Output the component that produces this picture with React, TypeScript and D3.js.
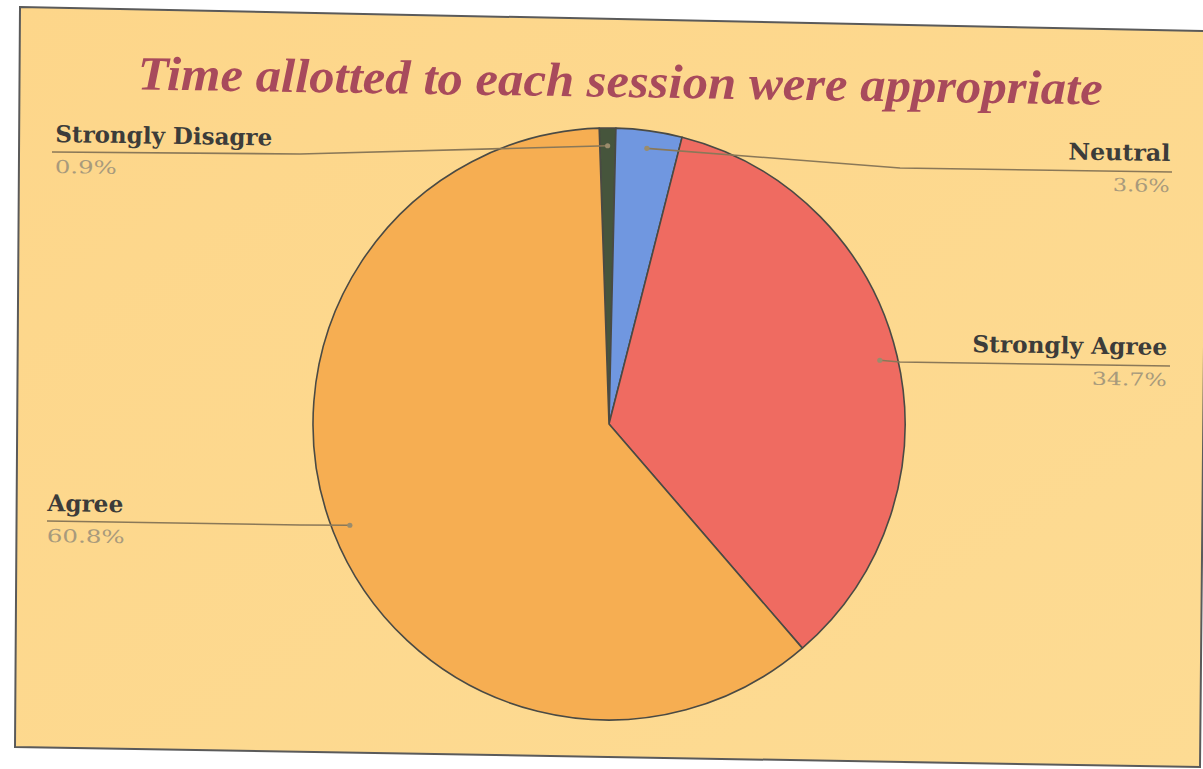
import React from 'react';
import * as d3 from 'd3';

// ---- data ----
const categories = ['Strongly Disagre', 'Neutral', 'Strongly Agree', 'Agree'];
const values = [0.9, 3.6, 34.7, 60.8];
const percentLabels = ['0.9%', '3.6%', '34.7%', '60.8%'];
const sliceColors = ['#46553c', '#7097e0', '#ef6b61', '#f6ae52'];
const title = 'Time allotted to each session were appropriate';

// ---- layout (label placement) ----
const W = 1203;
const H = 769;
const CX = 609;
const CY = 424;
const R = 296;
const TILT = 0.9; // degrees, photo skew
const START_DEG = -1.9;

type LabelLayout = {
  anchor: 'start' | 'end';
  x: number;
  lineY: number;
  elbow: [number, number];
  end: [number, number];
  nameW: number;
  pctW: number;
};

const labelLayout: LabelLayout[] = [
  { anchor: 'start', x: 55, lineY: 152, elbow: [300, 154], end: [52, 152], nameW: 217, pctW: 62 },
  { anchor: 'end', x: 1170, lineY: 171, elbow: [900, 168], end: [1172, 172], nameW: 102, pctW: 57 },
  { anchor: 'end', x: 1167, lineY: 365, elbow: [900, 362], end: [1170, 366], nameW: 195, pctW: 75 },
  { anchor: 'start', x: 47, lineY: 521, elbow: [300, 525], end: [47, 521], nameW: 76, pctW: 78 },
];

export default function App() {
  const startRad = (START_DEG * Math.PI) / 180;
  const pie = d3
    .pie<number>()
    .sort(null)
    .startAngle(startRad)
    .endAngle(startRad + 2 * Math.PI);
  const arcs = pie(values);
  const arc = d3.arc<d3.PieArcDatum<number>>().innerRadius(0).outerRadius(R);
  const dotArc = d3
    .arc<d3.PieArcDatum<number>>()
    .innerRadius(R * 0.94)
    .outerRadius(R * 0.94);
  const line = d3.line();

  const framePts: [number, number][] = [
    [20, 7],
    [1207, 31],
    [1200, 767],
    [15, 747],
  ];

  return (
    <svg
      width={W}
      height={H}
      style={{ position: 'absolute', left: 0, top: 0, background: '#ffffff' }}
    >
      <defs>
        <linearGradient id="bg" x1="0" y1="0" x2="1" y2="1">
          <stop offset="0" stopColor="#fdd68a" />
          <stop offset="1" stopColor="#fddb93" />
        </linearGradient>
      </defs>
      <path
        d={line(framePts) + 'Z'}
        fill="url(#bg)"
        stroke="#5a5a5a"
        strokeWidth={2}
      />
      <text
        x={620}
        y={97}
        textAnchor="middle"
        fontFamily="'Liberation Serif', serif"
        fontStyle="italic"
        fontWeight="bold"
        fontSize={48}
        fill="#a84a5c"
        textLength={965}
        lengthAdjust="spacingAndGlyphs"
        transform={`rotate(${TILT} 620 97)`}
      >
        {title}
      </text>

      <g transform={`translate(${CX},${CY})`}>
        {arcs.map((a, i) => (
          <path
            key={categories[i]}
            d={arc(a) || ''}
            fill={sliceColors[i]}
            stroke="#4a4a44"
            strokeWidth={1.6}
            strokeLinejoin="round"
          />
        ))}
      </g>

      {arcs.map((a, i) => {
        const L = labelLayout[i];
        const c = dotArc.centroid(a);
        const dot: [number, number] = [c[0] + CX, c[1] + CY];
        const pts: [number, number][] = [dot, L.elbow, L.end];
        return (
          <g key={'lbl' + i}>
            <path
              d={line(pts) || ''}
              fill="none"
              stroke="#8a7858"
              strokeWidth={1.6}
            />
            <circle cx={dot[0]} cy={dot[1]} r={2.6} fill="#9a8c6c" />
            <g transform={`rotate(${TILT} ${L.x} ${L.lineY})`}>
              <text
                x={L.x}
                y={L.lineY - 10}
                textAnchor={L.anchor}
                fontFamily="'DejaVu Serif', serif"
                fontWeight="bold"
                fontSize={23}
                fill="#3c3c3a"
                textLength={L.nameW}
                lengthAdjust="spacingAndGlyphs"
              >
                {categories[i]}
              </text>
              <text
                x={L.x}
                y={L.lineY + 21}
                textAnchor={L.anchor}
                fontFamily="'DejaVu Serif', serif"
                fontSize={18}
                fill="#a89a7c"
                textLength={L.pctW}
                lengthAdjust="spacingAndGlyphs"
              >
                {percentLabels[i]}
              </text>
            </g>
          </g>
        );
      })}
    </svg>
  );
}
